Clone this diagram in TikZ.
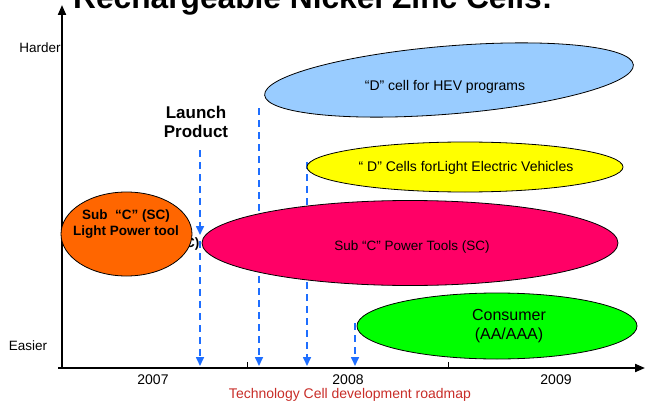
\documentclass[tikz,border=0pt]{standalone}
\usepackage{fontspec}
\setmainfont{Liberation Sans}
\usetikzlibrary{shapes.geometric,arrows.meta}

\definecolor{hevblue}{HTML}{99CCFF}
\definecolor{levyellow}{HTML}{FFFF00}
\definecolor{toolpink}{HTML}{FF0066}
\definecolor{lightorange}{HTML}{FF6600}
\definecolor{consgreen}{HTML}{00FF00}
\definecolor{milestone}{HTML}{1E6EFF}
\definecolor{captionred}{RGB}{200,45,40}

\tikzset{
  axisline/.style={line width=2pt, -{Triangle[width=8pt,length=10pt]}},
  milestonearrow/.style={milestone, line width=1.6pt, dash pattern=on 7pt off 5pt,
    -{Triangle[width=8pt,length=9pt]}},
  blob/.style={ellipse, draw=black, line width=0.8pt, inner sep=0pt},
  fs/.style={font=\fontsize{#1}{\dimexpr #1pt*6/5\relax}\selectfont},
  fsb/.style={font=\fontsize{#1}{\dimexpr #1pt*6/5\relax}\selectfont\bfseries},
}

\begin{document}
\begin{tikzpicture}[x=1pt, y=-1pt]
\useasboundingbox (0,0) rectangle (645,404);

% title (runs off the top edge)
\node[fsb=31.7, anchor=base west, inner sep=0pt] (title) at (73,9)
  {Rechargeable Nickel Zinc Cells:};

% axes
\coordinate (origin) at (62,368);
\coordinate (ytop) at (62,5);
\coordinate (xend) at (645,368);
\draw[axisline] (origin) -- (ytop);
\draw[axisline] ([xshift=-4pt]origin) -- (xend);

% year ticks
\coordinate (t1a) at (247,362); \coordinate (t1b) at (247,368);
\coordinate (t2a) at (448,362); \coordinate (t2b) at (448,368);
\draw[line width=0.8pt] (t1a) -- (t1b);
\draw[line width=0.8pt] (t2a) -- (t2b);

% axis labels
\node[fs=13.5] (harder) at (40,48) {Harder};
\node[fs=13.5] (easier) at (28,346) {Easier};
\node[fs=14] (y2007) at (153,380) {2007};
\node[fs=14] (y2008) at (348,380) {2008};
\node[fs=14] (y2009) at (556,380) {2009};
\node[fs=14, text=captionred, inner sep=1pt] (caption) at (350,395) {Technology Cell development roadmap};

% launch label
\node[fsb=17, align=center] (launch) at (196,122) {Launch\\[-1pt]Product};

% milestone arrows
\coordinate (a1s) at (200,150); \coordinate (a1e) at (200,235);
\coordinate (a2s) at (200,241); \coordinate (a2e) at (200,366);
\coordinate (bs) at (259,108);  \coordinate (be) at (259,366);
\coordinate (cs) at (307,162);  \coordinate (ce) at (307,366);
\coordinate (ds) at (355,323);  \coordinate (de) at (355,366);
\draw[milestonearrow] (a1s) -- (a1e);
\draw[milestonearrow] (a2s) -- (a2e);
\draw[milestonearrow] (bs) -- (be);
\draw[milestonearrow] (cs) -- (ce);
\draw[milestonearrow] (ds) -- (de);

% label mostly covered by the orange ellipse
\node[fsb=13.5, anchor=east, inner sep=0pt] (hidden) at (199.5,244) {(SC)};

% product ellipses
\node[blob, fill=hevblue, minimum width=370pt, minimum height=68pt, rotate=4.7]
  (hev) at (449,80) {};
\node[fs=14] (hevtext) at (445,87) {“D” cell for HEV programs};

\node[blob, fill=levyellow, minimum width=316pt, minimum height=50pt]
  (lev) at (465,167) {};
\node[fs=14] (levtext) at (466,168) {“ D” Cells forLight Electric Vehicles};

\node[blob, fill=toolpink, minimum width=416pt, minimum height=85pt]
  (tools) at (410,243) {};
\node[fs=13.5] (toolstext) at (412,247) {Sub “C” Power Tools (SC)};

\node[blob, fill=lightorange, minimum width=131pt, minimum height=84pt]
  (light) at (126.5,234) {};
\node[fsb=13.5, align=center] (lighttext) at (126,224) {Sub \ “C” (SC)\\Light Power tool};

\node[blob, fill=consgreen, minimum width=280pt, minimum height=66pt]
  (cons) at (497,326) {};
\node[fs=16, align=center] (constext) at (509,326) {Consumer\\(AA/AAA)};
\end{tikzpicture}
\end{document}
